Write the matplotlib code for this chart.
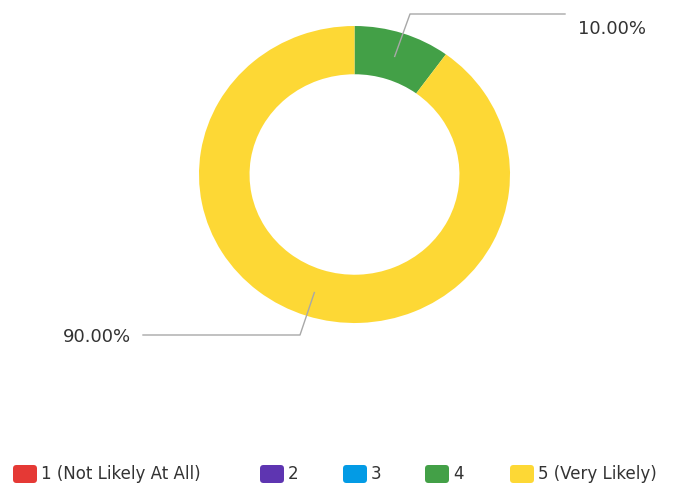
import numpy as np
import matplotlib.pyplot as plt
from matplotlib.patches import FancyBboxPatch

# data
categories = ['1 (Not Likely At All)', '2', '3', '4', '5 (Very Likely)']
shares = [0.0, 0.0, 0.0, 10.0, 90.0]
colors = ['#E53935', '#5E35B1', '#039BE5', '#43A047', '#FDD835']
pie_labels = ['10.00%', '90.00%']

W, H = 673, 483
fig = plt.figure(figsize=(W / 100, H / 100), dpi=100)

# donut box in pixels (the reference is slightly wider than tall)
cx, cy = 354.5, 174.5
rx, ry = 155.5, 148.5
hole = 0.675

pax = fig.add_axes([(cx - rx) / W, (H - cy - ry) / H, 2 * rx / W, 2 * ry / H])
vals = [v for v in shares if v > 0]
cols = [c for v, c in zip(shares, colors) if v > 0]
pax.pie(vals, colors=cols, startangle=90, counterclock=False, radius=1,
        wedgeprops=dict(width=1 - hole, linewidth=0))
pax.set_xlim(-1, 1)
pax.set_ylim(-1, 1)
pax.set_aspect('auto')
pax.axis('off')

# overlay in pixel coords for leader lines, labels, legend
ax = fig.add_axes([0, 0, 1, 1])
ax.set_xlim(0, W)
ax.set_ylim(H, 0)
ax.axis('off')
ax.patch.set_alpha(0)

line_col = '#a8a8a8'
text_col = '#333333'
angles = 90 - np.cumsum([0] + vals[:-1]) * 3.6 - np.array(vals) * 1.8
r_anchor = 0.836

def anchor(deg):
    a = np.deg2rad(deg)
    return cx + r_anchor * rx * np.cos(a), cy - r_anchor * ry * np.sin(a)

# 10% slice -> up and to the right
x0, y0 = anchor(angles[0])
ax.plot([x0, 410, 565], [y0, 14, 14], color=line_col, lw=1)
ax.text(578, 29, pie_labels[0], fontsize=13, color=text_col,
        ha='left', va='center', family='DejaVu Sans')

# 90% slice -> down and to the left
x1, y1 = anchor(angles[1])
ax.plot([x1, 300, 143], [y1, 335, 335], color=line_col, lw=1)
ax.text(131, 337, pie_labels[1], fontsize=13, color=text_col,
        ha='right', va='center', family='DejaVu Sans')

# legend
sq_x = [13, 260, 343, 425, 510]
ly = 474
for x, lab, c in zip(sq_x, categories, colors):
    ax.add_patch(FancyBboxPatch((x, ly - 9), 24, 18,
                                boxstyle='round,pad=0,rounding_size=3.5',
                                facecolor=c, edgecolor='none'))
    ax.text(x + 28, ly, lab, fontsize=12, color=text_col,
            ha='left', va='center', family='DejaVu Sans')

fig.savefig('out.png', dpi=100, facecolor='white')
